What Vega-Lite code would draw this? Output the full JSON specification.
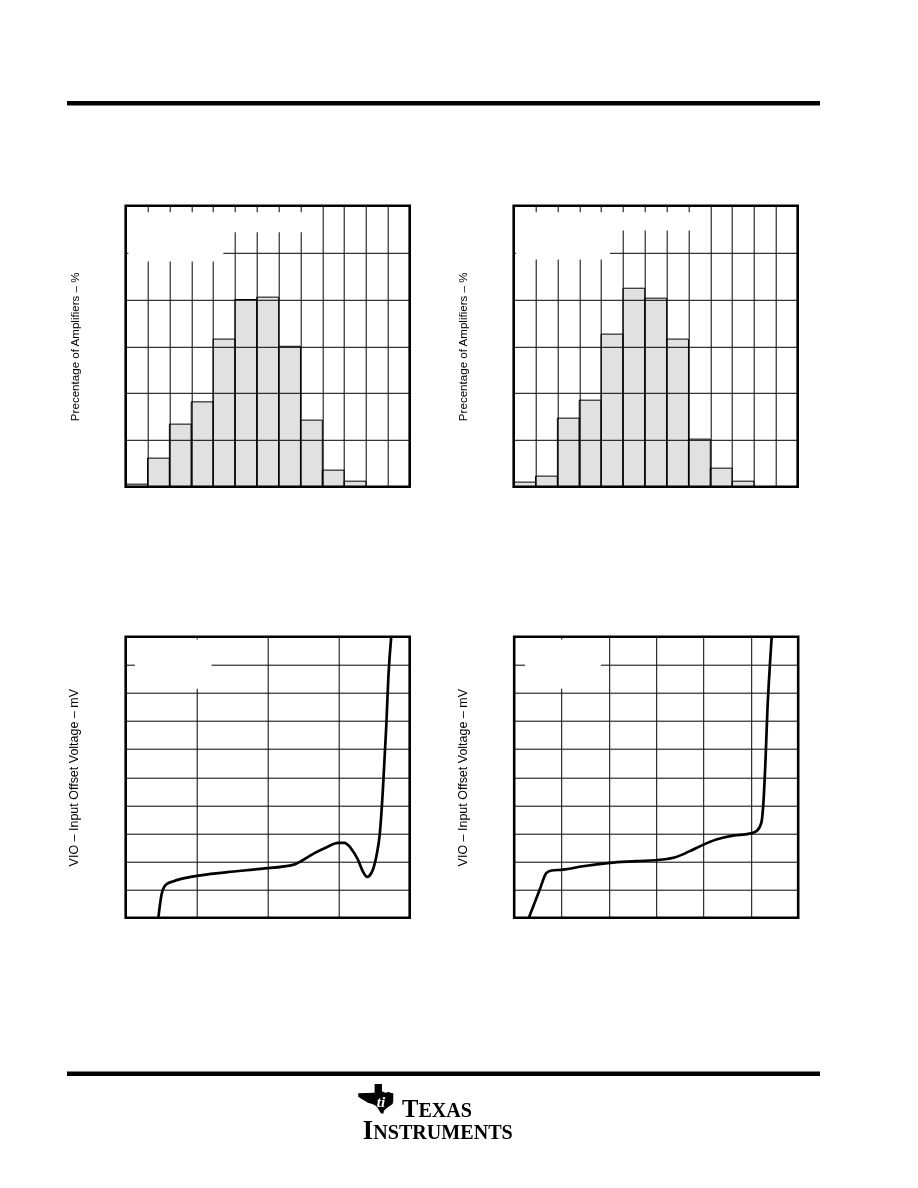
{
  "$schema": "https://vega.github.io/schema/vega-lite/v6.json",
  "padding": {"left": 64.7, "top": 100.3, "right": 0, "bottom": 0},
  "background": "white",
  "config": {
    "view": {"stroke": null},
    "font": "Liberation Sans",
    "axis": {
      "titleFont": "Liberation Sans", "titleFontWeight": "normal", "titleColor": "black", "titleFontSize": 11.6,
      "gridColor": "black", "gridOpacity": 1, "gridWidth": 1, "tickCount": 30,
      "labels": false, "ticks": false, "domain": false
    }
  },
  "datasets": {
    "hist1": [
      {"lo": 0, "hi": 1, "pct": 0.28}, {"lo": 1, "hi": 2, "pct": 3.06}, {"lo": 2, "hi": 3, "pct": 6.69},
      {"lo": 3, "hi": 4, "pct": 9.07}, {"lo": 4, "hi": 5, "pct": 15.77}, {"lo": 5, "hi": 6, "pct": 20.0},
      {"lo": 6, "hi": 7, "pct": 20.25}, {"lo": 7, "hi": 8, "pct": 15.0}, {"lo": 8, "hi": 9, "pct": 7.12},
      {"lo": 9, "hi": 10, "pct": 1.78}, {"lo": 10, "hi": 11, "pct": 0.6}
    ],
    "hist2": [
      {"lo": 0, "hi": 1, "pct": 0.5}, {"lo": 1, "hi": 2, "pct": 1.14}, {"lo": 2, "hi": 3, "pct": 7.33},
      {"lo": 3, "hi": 4, "pct": 9.25}, {"lo": 4, "hi": 5, "pct": 16.3}, {"lo": 5, "hi": 6, "pct": 21.2},
      {"lo": 6, "hi": 7, "pct": 20.14}, {"lo": 7, "hi": 8, "pct": 15.77}, {"lo": 8, "hi": 9, "pct": 5.09},
      {"lo": 9, "hi": 10, "pct": 1.99}, {"lo": 10, "hi": 11, "pct": 0.6}
    ],
    "curve1": [
      {"x": 0.46, "v": 0.0}, {"x": 0.51, "v": 0.88}, {"x": 0.57, "v": 1.18}, {"x": 0.675, "v": 1.30},
      {"x": 0.96, "v": 1.47}, {"x": 1.43, "v": 1.62}, {"x": 1.90, "v": 1.74}, {"x": 2.37, "v": 1.89},
      {"x": 2.47, "v": 2.01}, {"x": 2.66, "v": 2.30}, {"x": 2.84, "v": 2.52}, {"x": 2.99, "v": 2.66},
      {"x": 3.08, "v": 2.66}, {"x": 3.17, "v": 2.48}, {"x": 3.27, "v": 2.07}, {"x": 3.34, "v": 1.65},
      {"x": 3.40, "v": 1.45}, {"x": 3.46, "v": 1.59}, {"x": 3.53, "v": 2.18}, {"x": 3.58, "v": 3.01},
      {"x": 3.62, "v": 4.44}, {"x": 3.67, "v": 6.81}, {"x": 3.70, "v": 8.58}, {"x": 3.74, "v": 10.0}
    ],
    "curve2": [
      {"x": 0.31, "v": 0.0}, {"x": 0.54, "v": 1.0}, {"x": 0.68, "v": 1.59}, {"x": 0.79, "v": 1.68},
      {"x": 1.03, "v": 1.71}, {"x": 1.45, "v": 1.83}, {"x": 2.02, "v": 1.95}, {"x": 2.58, "v": 2.01},
      {"x": 3.14, "v": 2.07}, {"x": 3.42, "v": 2.16}, {"x": 3.70, "v": 2.36}, {"x": 4.00, "v": 2.60},
      {"x": 4.27, "v": 2.78}, {"x": 4.62, "v": 2.92}, {"x": 4.97, "v": 2.99}, {"x": 5.11, "v": 3.07},
      {"x": 5.22, "v": 3.37}, {"x": 5.26, "v": 3.96}, {"x": 5.31, "v": 5.62}, {"x": 5.35, "v": 7.40},
      {"x": 5.40, "v": 8.93}, {"x": 5.44, "v": 10.0}
    ]
  },
  "spacing": 145.4,
  "vconcat": [
    {
      "spacing": 97.5,
      "vconcat": [
        {
          "width": 694.3, "height": 1,
          "data": {"values": [{}]},
          "mark": {"type": "rule", "strokeWidth": 4.5, "color": "black", "xOffset": -58.7},
          "encoding": {"x": {"value": 0}, "x2": {"value": "width"}, "y": {"value": 0}}
        },
        {
          "spacing": 44,
          "hconcat": [
            {
              "width": 284, "height": 281,
              "view": {"stroke": "black", "strokeWidth": 2.6},
              "layer": [
                {
                  "data": {"name": "hist1"},
                  "mark": {"type": "rect", "fill": "#e1e1e1", "stroke": "black", "strokeWidth": 1, "blend": "multiply"},
                  "encoding": {
                    "x": {"field": "lo", "type": "quantitative", "scale": {"domain": [0, 13], "nice": false, "zero": false},
                          "axis": {"grid": true, "values": [1,2,3,4,5,6,7,8,9,10,11,12], "title": null}},
                    "x2": {"field": "hi"},
                    "y": {"field": "pct", "type": "quantitative", "scale": {"domain": [0, 30], "nice": false},
                          "axis": {"grid": true, "values": [5,10,15,20,25], "title": "Precentage of Amplifiers – %", "titlePadding": 45}},
                    "y2": {"datum": 0}
                  }
                },
                {
                  "data": {"values": [{}]},
                  "mark": {"type": "rect", "fill": "white"},
                  "encoding": {"x": {"datum": 0.12}, "x2": {"datum": 4.47}, "y": {"datum": 29.3}, "y2": {"datum": 24.05}}
                },
                {
                  "data": {"values": [{}]},
                  "mark": {"type": "rect", "fill": "white"},
                  "encoding": {"x": {"datum": 4.47}, "x2": {"datum": 8.4}, "y": {"datum": 29.3}, "y2": {"datum": 27.18}}
                }
              ]
            },
            {
              "width": 284, "height": 281,
              "view": {"stroke": "black", "strokeWidth": 2.6},
              "layer": [
                {
                  "data": {"name": "hist2"},
                  "mark": {"type": "rect", "fill": "#e1e1e1", "stroke": "black", "strokeWidth": 1, "blend": "multiply"},
                  "encoding": {
                    "x": {"field": "lo", "type": "quantitative", "scale": {"domain": [0, 13], "nice": false, "zero": false},
                          "axis": {"grid": true, "values": [1,2,3,4,5,6,7,8,9,10,11,12], "title": null}},
                    "x2": {"field": "hi"},
                    "y": {"field": "pct", "type": "quantitative", "scale": {"domain": [0, 30], "nice": false},
                          "axis": {"grid": true, "values": [5,10,15,20,25], "title": "Precentage of Amplifiers – %", "titlePadding": 45}},
                    "y2": {"datum": 0}
                  }
                },
                {
                  "data": {"values": [{}]},
                  "mark": {"type": "rect", "fill": "white"},
                  "encoding": {"x": {"datum": 0.11}, "x2": {"datum": 4.41}, "y": {"datum": 29.3}, "y2": {"datum": 24.27}}
                },
                {
                  "data": {"values": [{}]},
                  "mark": {"type": "rect", "fill": "white"},
                  "encoding": {"x": {"datum": 4.41}, "x2": {"datum": 8.4}, "y": {"datum": 29.3}, "y2": {"datum": 27.36}}
                }
              ]
            }
          ]
        }
      ]
    },
    {
      "spacing": 151,
      "vconcat": [
        {
          "spacing": 42.5,
          "hconcat": [
            {
              "width": 284, "height": 281,
              "view": {"stroke": "black", "strokeWidth": 2.6},
              "layer": [
                {
                  "data": {"name": "curve1"},
                  "mark": {"type": "line", "color": "black", "strokeWidth": 2.7, "interpolate": "monotone", "clip": true},
                  "encoding": {
                    "x": {"field": "x", "type": "quantitative", "scale": {"domain": [0, 4], "nice": false, "zero": false},
                          "axis": {"grid": true, "values": [1,2,3], "title": null}},
                    "y": {"field": "v", "type": "quantitative", "scale": {"domain": [0, 10], "nice": false},
                          "axis": {"grid": true, "values": [1,2,3,4,5,6,7,8,9], "title": "VIO – Input Offset Voltage – mV", "titleFontSize": 12.5, "titlePadding": 45}}
                  }
                },
                {
                  "data": {"values": [{}]},
                  "mark": {"type": "rect", "fill": "white"},
                  "encoding": {"x": {"datum": 0.13}, "x2": {"datum": 1.21}, "y": {"datum": 9.9}, "y2": {"datum": 8.15}}
                }
              ]
            },
            {
              "width": 284, "height": 281,
              "view": {"stroke": "black", "strokeWidth": 2.6},
              "layer": [
                {
                  "data": {"name": "curve2"},
                  "mark": {"type": "line", "color": "black", "strokeWidth": 2.7, "interpolate": "monotone", "clip": true},
                  "encoding": {
                    "x": {"field": "x", "type": "quantitative", "scale": {"domain": [0, 6], "nice": false, "zero": false},
                          "axis": {"grid": true, "values": [1,2,3,4,5], "title": null}},
                    "y": {"field": "v", "type": "quantitative", "scale": {"domain": [0, 10], "nice": false},
                          "axis": {"grid": true, "values": [1,2,3,4,5,6,7,8,9], "title": "VIO – Input Offset Voltage – mV", "titleFontSize": 12.5, "titlePadding": 45}}
                  }
                },
                {
                  "data": {"values": [{}]},
                  "mark": {"type": "rect", "fill": "white"},
                  "encoding": {"x": {"datum": 0.23}, "x2": {"datum": 1.83}, "y": {"datum": 9.9}, "y2": {"datum": 8.15}}
                }
              ]
            }
          ]
        },
        {
          "width": 694.3, "height": 70,
          "data": {"values": [{}]},
          "layer": [
            {
              "mark": {"type": "rule", "strokeWidth": 4.5, "color": "black", "xOffset": -58.7},
              "encoding": {"x": {"value": 0}, "x2": {"value": "width"}, "y": {"value": 0}}
            },
            {
              "mark": {"type": "point", "shape": "M-0.067,-0.838L0.352,-0.838L0.352,-0.419L0.543,-0.343L0.733,-0.381L0.886,-0.324L1,-0.305L1,0.114L0.962,0.305L0.771,0.438L0.581,0.571L0.467,0.686L0.429,0.857L0.295,0.838L0.181,0.667L0.086,0.495L-0.067,0.362L-0.257,0.286L-0.448,0.229L-0.638,0.114L-0.829,0L-1,-0.114L-1,-0.305L-0.067,-0.343Z", "filled": true, "color": "black", "opacity": 1, "size": 1225, "strokeWidth": 0},
              "encoding": {
                "x": {"datum": 0.3602, "type": "quantitative", "scale": {"domain": [0, 1], "nice": false, "zero": false}, "axis": null},
                "y": {"datum": 0.3571, "type": "quantitative", "scale": {"domain": [0, 1], "nice": false, "zero": false, "reverse": true}, "axis": null}
              }
            },
            {
              "mark": {"type": "text", "text": "ti", "font": "Liberation Serif", "fontWeight": "bold", "fontStyle": "italic", "fontSize": 15, "align": "center", "baseline": "alphabetic", "color": "white"},
              "encoding": {"x": {"datum": 0.3677}, "y": {"datum": 0.4757}}
            },
            {
              "mark": {"type": "text", "text": "T", "font": "Liberation Serif", "fontWeight": "bold", "fontSize": 24.5, "align": "left", "baseline": "alphabetic", "color": "black"},
              "encoding": {"x": {"datum": 0.398}, "y": {"datum": 0.6229}}
            },
            {
              "mark": {"type": "text", "text": "EXAS", "font": "Liberation Serif", "fontWeight": "bold", "fontSize": 20.1, "align": "left", "baseline": "alphabetic", "color": "black"},
              "encoding": {"x": {"datum": 0.4217}, "y": {"datum": 0.6229}}
            },
            {
              "mark": {"type": "text", "text": "I", "font": "Liberation Serif", "fontWeight": "bold", "fontSize": 26.5, "align": "left", "baseline": "alphabetic", "color": "black"},
              "encoding": {"x": {"datum": 0.3415}, "y": {"datum": 0.9371}}
            },
            {
              "mark": {"type": "text", "text": "NSTRUMENTS", "font": "Liberation Serif", "fontWeight": "bold", "fontSize": 20.1, "align": "left", "baseline": "alphabetic", "color": "black"},
              "encoding": {"x": {"datum": 0.3566}, "y": {"datum": 0.9371}}
            }
          ]
        }
      ]
    }
  ]
}
